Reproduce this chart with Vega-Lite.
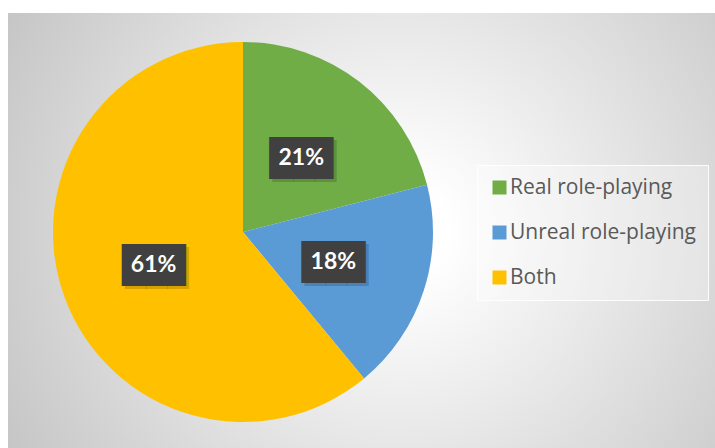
{
  "$schema": "https://vega.github.io/schema/vega-lite/v6.json",
  "width": 715,
  "height": 448,
  "autosize": {"type": "fit", "contains": "padding"},
  "padding": {"left": 8, "top": 13, "right": 0, "bottom": 0},
  "background": "#ffffff",
  "config": {"view": {"stroke": null}},
  "data": {
    "values": [
      {"category": "Real role-playing", "value": 21, "label": "21%", "idx": 1},
      {"category": "Unreal role-playing", "value": 18, "label": "18%", "idx": 2},
      {"category": "Both", "value": 61, "label": "61%", "idx": 3}
    ]
  },
  "layer": [
    {
      "data": {"values": [{"bg": 1}]},
      "mark": {
        "type": "rect",
        "color": {
          "gradient": "radial",
          "x1": 0.554, "y1": 0.5, "r1": 0,
          "x2": 0.554, "y2": 0.5, "r2": 0.65,
          "stops": [
            {"offset": 0, "color": "#ffffff"},
            {"offset": 0.1, "color": "#ffffff"},
            {"offset": 1, "color": "#c4c4c4"}
          ]
        }
      },
      "encoding": {}
    },
    {
      "mark": {"type": "arc", "outerRadius": 190, "x": 235, "y": 219},
      "encoding": {
        "theta": {"field": "value", "type": "quantitative", "stack": true},
        "order": {"field": "idx", "type": "quantitative"},
        "color": {
          "field": "category",
          "type": "nominal",
          "scale": {
            "domain": ["Real role-playing", "Unreal role-playing", "Both"],
            "range": ["#70AD47", "#5B9BD5", "#FFC000"]
          },
          "legend": {
            "orient": "none",
            "legendX": 469,
            "legendY": 152,
            "title": null,
            "symbolType": "square",
            "symbolSize": 196,
            "symbolStrokeWidth": 0,
            "labelFont": "Open Sans",
            "labelFontSize": 21,
            "labelLimit": 400,
            "labelColor": "#595959",
            "labelOffset": 0,
            "rowPadding": 23,
            "padding": 12,
            "fillColor": "rgba(255,255,255,0.3)",
            "strokeColor": "rgba(255,255,255,0.9)"
          }
        }
      }
    },
    {
      "mark": {"type": "text", "text": "███", "font": "DejaVu Sans Mono", "fontSize": 35.3, "radius": 95, "x": 238, "y": 222, "dy": 2, "baseline": "middle", "color": "rgba(0,0,0,0.18)"},
      "encoding": {
        "theta": {"field": "value", "type": "quantitative", "stack": true},
        "order": {"field": "idx", "type": "quantitative"}
      }
    },
    {
      "mark": {"type": "text", "text": "███", "font": "DejaVu Sans Mono", "fontSize": 35.3, "radius": 95, "x": 235, "y": 219, "dy": 2, "baseline": "middle", "color": "#404040"},
      "encoding": {
        "theta": {"field": "value", "type": "quantitative", "stack": true},
        "order": {"field": "idx", "type": "quantitative"}
      }
    },
    {
      "mark": {"type": "text", "radius": 95, "x": 235, "y": 219, "dy": 1, "baseline": "middle", "font": "Lato", "fontSize": 23, "fontWeight": "bold", "color": "#ffffff"},
      "encoding": {
        "theta": {"field": "value", "type": "quantitative", "stack": true},
        "order": {"field": "idx", "type": "quantitative"},
        "text": {"field": "label", "type": "nominal"}
      }
    }
  ]
}
